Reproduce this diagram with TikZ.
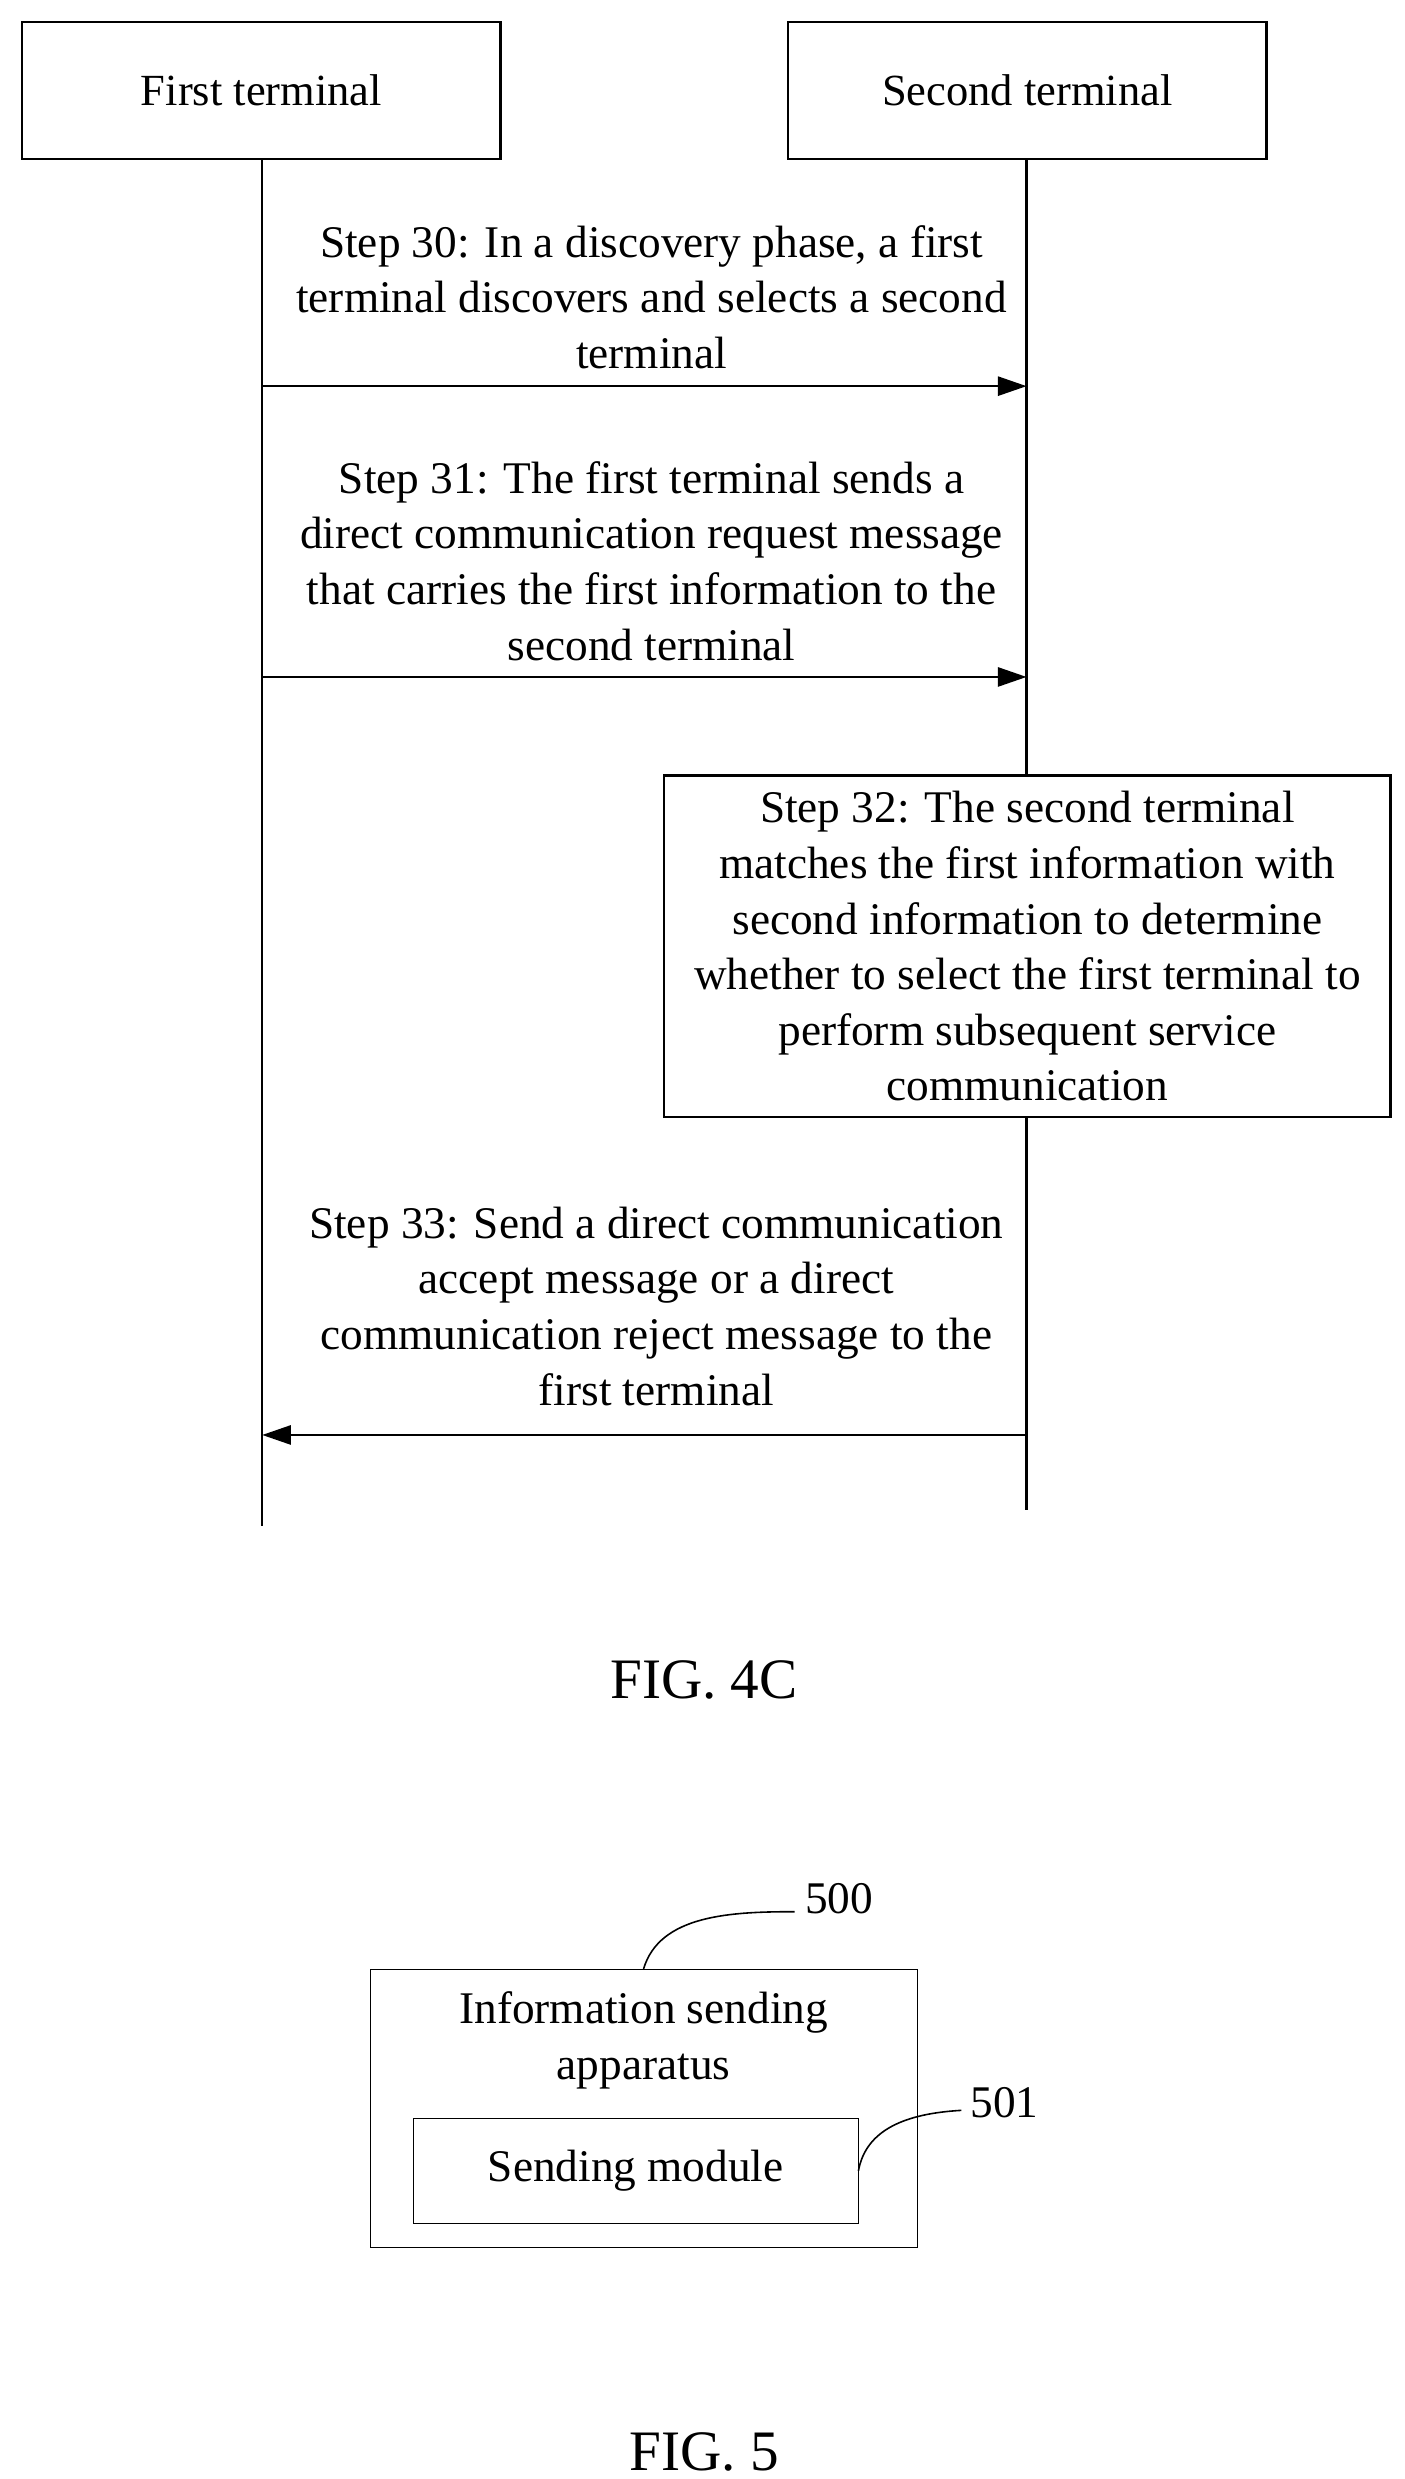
\documentclass[tikz,border=0pt]{standalone}
\usepackage{fontspec}
\setmainfont{Liberation Serif}
\usetikzlibrary{arrows.meta,positioning}
\tikzset{
  term/.style={draw,line width=1.5pt,minimum width=301pt,minimum height=86pt,font=\fontsize{28}{35}\selectfont},
  steptext/.style={align=center,font=\fontsize{28.5}{35}\selectfont},
  msg/.style={line width=1.5pt,-{Triangle[length=18pt,width=12pt]}},
  life/.style={line width=1.5pt},
  fig/.style={font=\fontsize{36}{40}\selectfont}
}
\begin{document}
\begin{tikzpicture}[x=1pt,y=-1pt]
\useasboundingbox (0,0) rectangle (884,1560);
% Terminals and lifelines
\node[term] (ft) at (164.5,57) {First terminal};
\node[term] (st) at (646.5,57) {Second terminal};
\coordinate (ftend) at (165,960);
\coordinate (stend) at (646,950);
% Step 32 box on the second lifeline
\node[draw,line width=1.5pt,steptext,minimum width=457pt,minimum height=215pt] (s32) at (646.5,595.5)
  {Step 32: The second terminal\\matches the first information with\\second information to determine\\whether to select the first terminal to\\perform subsequent service\\communication};
\draw[life] (ft.south -| ftend) -- (ftend);
\draw[life] (st.south -| stend) -- (s32.north -| stend);
\draw[life] (s32.south -| stend) -- (stend);
% Messages
\coordinate (a30) at (165,243); \coordinate (b30) at (646,243);
\draw[msg] (a30) -- (b30);
\node[steptext] (t30) at (410,187) {Step 30: In a discovery phase, a first\\terminal discovers and selects a second\\terminal};
\coordinate (a31) at (165,426); \coordinate (b31) at (646,426);
\draw[msg] (a31) -- (b31);
\node[steptext] (t31) at (410,353) {Step 31: The first terminal sends a\\direct communication request message\\that carries the first information to the\\second terminal};
\coordinate (a33) at (646,903); \coordinate (b33) at (165,903);
\draw[msg] (a33) -- (b33);
\node[steptext] (t33) at (413,822) {Step 33: Send a direct communication\\accept message or a direct\\communication reject message to the\\first terminal};
\node[fig] (f4) at (443,1057) {FIG. 4C};
% Apparatus
\draw[thin] (233,1239) rectangle (577,1414);
\node[steptext] (app) at (405,1284) {Information sending\\apparatus};
\node[draw,thin,steptext,minimum width=280pt,minimum height=66pt] (mod) at (400,1366) {Sending module};
\node[steptext] (l500) at (528,1195) {500};
\node[steptext] (l501) at (632,1323) {501};
\draw[line width=1pt] (405,1239) .. controls (415,1205) and (460,1203) .. (500,1203);
\draw[line width=1pt] (mod.east) .. controls (545,1340) and (570,1330) .. (605,1328);
\node[fig] (f5) at (443,1543) {FIG. 5};
\end{tikzpicture}
\end{document}
